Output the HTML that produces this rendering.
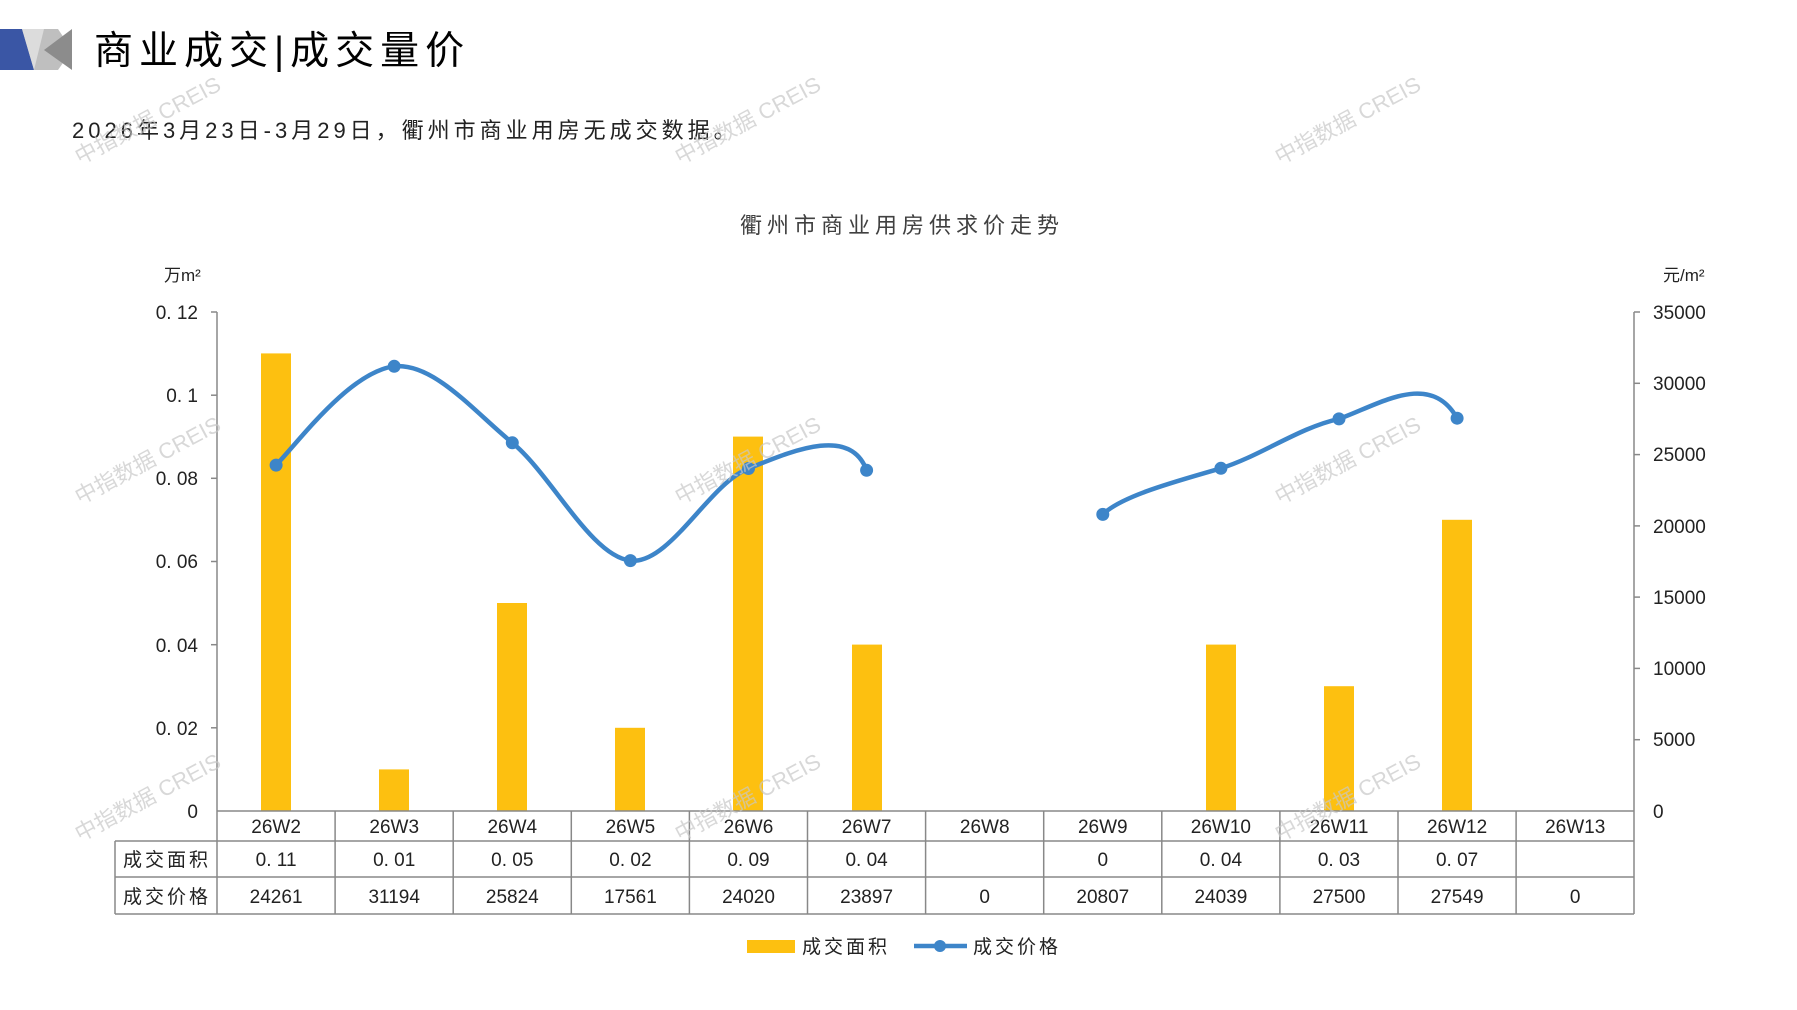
<!DOCTYPE html>
<html><head><meta charset="utf-8"><style>
html,body{margin:0;padding:0;background:#fff;}
svg{display:block;}
text{font-family:"Liberation Sans","Noto Sans CJK SC",sans-serif;}
</style></head><body>
<svg width="1797" height="1010" viewBox="0 0 1797 1010" xmlns="http://www.w3.org/2000/svg">
<polygon points="0,29 58,29 72,50 58,70 0,70" fill="#bfbfbf"/>
<polygon points="0,29 22,29 34,70 0,70" fill="#3a56a5"/>
<polygon points="44,50 72,29 72,70" fill="#8c8c8c"/>
<polygon points="22,29 44,29 34,70" fill="#dcdcdc"/>
<text x="94" y="64" font-size="39" fill="#000" letter-spacing="6">商业成交|成交量价</text>
<text x="72" y="138" font-size="22" fill="#222" letter-spacing="4">2026年3月23日-3月29日，衢州市商业用房无成交数据。</text>
<text x="902" y="233" font-size="22" fill="#404040" text-anchor="middle" letter-spacing="5">衢州市商业用房供求价走势</text>
<text x="164" y="281" font-size="17" fill="#222">万m²</text>
<text x="1663" y="281" font-size="17" fill="#222">元/m²</text>
<g stroke="#888" stroke-width="1.5" fill="none">
<line x1="217" y1="312" x2="217" y2="811"/>
<line x1="1634" y1="312" x2="1634" y2="811"/>
<line x1="211" y1="312" x2="217" y2="312"/><line x1="211" y1="395.2" x2="217" y2="395.2"/>
<line x1="211" y1="478.3" x2="217" y2="478.3"/><line x1="211" y1="561.5" x2="217" y2="561.5"/>
<line x1="211" y1="644.7" x2="217" y2="644.7"/><line x1="211" y1="727.8" x2="217" y2="727.8"/>
<line x1="1634" y1="312" x2="1640" y2="312"/><line x1="1634" y1="383.3" x2="1640" y2="383.3"/>
<line x1="1634" y1="454.6" x2="1640" y2="454.6"/><line x1="1634" y1="525.9" x2="1640" y2="525.9"/>
<line x1="1634" y1="597.1" x2="1640" y2="597.1"/><line x1="1634" y1="668.4" x2="1640" y2="668.4"/>
<line x1="1634" y1="739.7" x2="1640" y2="739.7"/>
</g>
<g font-size="19" fill="#222" text-anchor="end">
<text x="198" y="319">0. 12</text><text x="198" y="402">0. 1</text><text x="198" y="485">0. 08</text>
<text x="198" y="568">0. 06</text><text x="198" y="652">0. 04</text><text x="198" y="735">0. 02</text>
<text x="198" y="818">0</text>
</g>
<g font-size="19" fill="#222">
<text x="1653" y="319">35000</text><text x="1653" y="390">30000</text><text x="1653" y="461">25000</text>
<text x="1653" y="533">20000</text><text x="1653" y="604">15000</text><text x="1653" y="675">10000</text>
<text x="1653" y="746">5000</text><text x="1653" y="818">0</text>
</g>
<g fill="#fdc010">
<rect x="261" y="353.4" width="30" height="457.6"/>
<rect x="379" y="769.4" width="30" height="41.6"/>
<rect x="497" y="603" width="30" height="208"/>
<rect x="615" y="727.8" width="30" height="83.2"/>
<rect x="733" y="436.6" width="30" height="374.4"/>
<rect x="852" y="644.6" width="30" height="166.4"/>
<rect x="1206" y="644.6" width="30" height="166.4"/>
<rect x="1324" y="686.2" width="30" height="124.8"/>
<rect x="1442" y="519.8" width="30" height="291.2"/>
</g>
<g stroke="#3d85c9" stroke-width="4.5" fill="none" stroke-linecap="round">
<path d="M276.1,465.1 C300,440 350,372 394.2,366.3 C433.6,362.6 472.9,410.4 512.3,442.8 C551.7,475.2 591,556.3 630.4,560.6 C669.8,564.9 709.1,483.5 748.5,468.5 C790,452 850,425 866.6,470.3"/>
<path d="M1102.8,514.4 C1122.5,495 1181.5,480 1220.9,468.3 C1260.3,456 1299.6,427.3 1339,418.9 C1378.4,405 1430,370 1457.1,418.2"/>
</g>
<g fill="#3d85c9">
<circle cx="276.1" cy="465.1" r="6.5"/><circle cx="394.2" cy="366.3" r="6.5"/><circle cx="512.3" cy="442.8" r="6.5"/>
<circle cx="630.4" cy="560.6" r="6.5"/><circle cx="748.5" cy="468.5" r="6.5"/><circle cx="866.6" cy="470.3" r="6.5"/>
<circle cx="1102.8" cy="514.4" r="6.5"/><circle cx="1220.9" cy="468.3" r="6.5"/><circle cx="1339" cy="418.9" r="6.5"/>
<circle cx="1457.1" cy="418.2" r="6.5"/>
</g>
<g stroke="#888" stroke-width="1.5">
<line x1="217" y1="811" x2="1634" y2="811"/>
<line x1="115" y1="841" x2="1634" y2="841"/>
<line x1="115" y1="877" x2="1634" y2="877"/>
<line x1="115" y1="914" x2="1634" y2="914"/>
<line x1="115" y1="841" x2="115" y2="914"/>
<line x1="217" y1="811" x2="217" y2="914"/><line x1="335.1" y1="811" x2="335.1" y2="914"/>
<line x1="453.2" y1="811" x2="453.2" y2="914"/><line x1="571.3" y1="811" x2="571.3" y2="914"/>
<line x1="689.4" y1="811" x2="689.4" y2="914"/><line x1="807.5" y1="811" x2="807.5" y2="914"/>
<line x1="925.6" y1="811" x2="925.6" y2="914"/><line x1="1043.7" y1="811" x2="1043.7" y2="914"/>
<line x1="1161.8" y1="811" x2="1161.8" y2="914"/><line x1="1279.9" y1="811" x2="1279.9" y2="914"/>
<line x1="1398" y1="811" x2="1398" y2="914"/><line x1="1516.1" y1="811" x2="1516.1" y2="914"/>
<line x1="1634" y1="811" x2="1634" y2="914"/>
</g>
<g font-size="19" fill="#222" text-anchor="middle">
<text x="276.1" y="833">26W2</text><text x="394.2" y="833">26W3</text><text x="512.3" y="833">26W4</text>
<text x="630.4" y="833">26W5</text><text x="748.5" y="833">26W6</text><text x="866.6" y="833">26W7</text>
<text x="984.7" y="833">26W8</text><text x="1102.8" y="833">26W9</text><text x="1220.9" y="833">26W10</text>
<text x="1339" y="833">26W11</text><text x="1457.1" y="833">26W12</text><text x="1575.2" y="833">26W13</text>
<text x="167" y="866" letter-spacing="3">成交面积</text><text x="167" y="903" letter-spacing="3">成交价格</text>
<text x="276.1" y="866">0. 11</text><text x="394.2" y="866">0. 01</text><text x="512.3" y="866">0. 05</text>
<text x="630.4" y="866">0. 02</text><text x="748.5" y="866">0. 09</text><text x="866.6" y="866">0. 04</text>
<text x="1102.8" y="866">0</text><text x="1220.9" y="866">0. 04</text><text x="1339" y="866">0. 03</text>
<text x="1457.1" y="866">0. 07</text>
<text x="276.1" y="903">24261</text><text x="394.2" y="903">31194</text><text x="512.3" y="903">25824</text>
<text x="630.4" y="903">17561</text><text x="748.5" y="903">24020</text><text x="866.6" y="903">23897</text>
<text x="984.7" y="903">0</text><text x="1102.8" y="903">20807</text><text x="1220.9" y="903">24039</text>
<text x="1339" y="903">27500</text><text x="1457.1" y="903">27549</text><text x="1575.2" y="903">0</text>
</g>
<rect x="747" y="940" width="48" height="13" fill="#fdc010"/>
<text x="802" y="953" font-size="19" fill="#222" letter-spacing="3">成交面积</text>
<line x1="914" y1="946" x2="967" y2="946" stroke="#3d85c9" stroke-width="4.5"/>
<circle cx="940" cy="946" r="6" fill="#3d85c9"/>
<text x="973" y="953" font-size="19" fill="#222" letter-spacing="3">成交价格</text>
<g font-size="22" fill="#c8c8c8" opacity="0.7">
<text transform="translate(80,165) rotate(-28)">中指数据 CREIS</text>
<text transform="translate(680,165) rotate(-28)">中指数据 CREIS</text>
<text transform="translate(1280,165) rotate(-28)">中指数据 CREIS</text>
<text transform="translate(80,505) rotate(-28)">中指数据 CREIS</text>
<text transform="translate(680,505) rotate(-28)">中指数据 CREIS</text>
<text transform="translate(1280,505) rotate(-28)">中指数据 CREIS</text>
<text transform="translate(80,842) rotate(-28)">中指数据 CREIS</text>
<text transform="translate(680,842) rotate(-28)">中指数据 CREIS</text>
<text transform="translate(1280,842) rotate(-28)">中指数据 CREIS</text>
</g>
</svg>
</body></html>
